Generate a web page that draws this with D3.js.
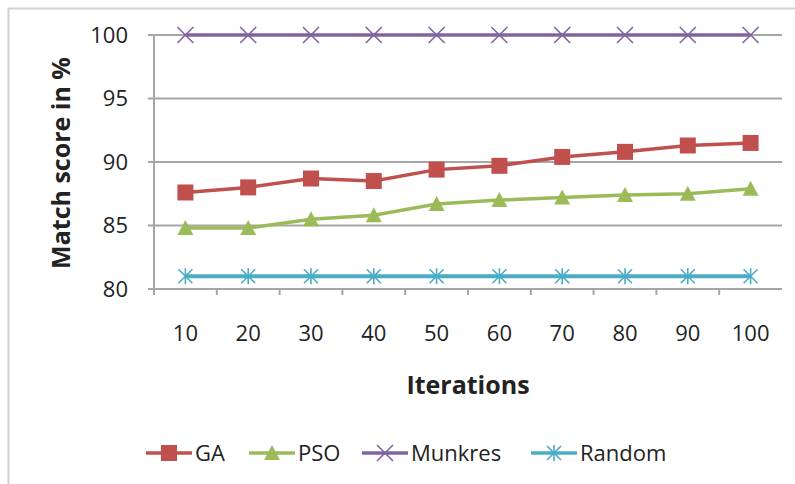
<!DOCTYPE html>
<html><head><meta charset="utf-8">
<script src="https://cdn.jsdelivr.net/npm/d3@7"></script>
<style>body{margin:0;background:#fff}svg{display:block}text{font-family:"Open Sans",sans-serif;fill:#222}</style>
</head><body><svg id="c" width="795" height="484"></svg>
<script>
const iterations = [10,20,30,40,50,60,70,80,90,100];
const gaValues = [87.6,88.0,88.7,88.5,89.4,89.7,90.4,90.8,91.3,91.5];
const psoValues = [84.8,84.8,85.5,85.8,86.7,87.0,87.2,87.4,87.5,87.9];
const munkresValues = [100,100,100,100,100,100,100,100,100,100];
const randomValues = [81,81,81,81,81,81,81,81,81,81];
const yTicks = [80,85,90,95,100];
const seriesNames = ["GA","PSO","Munkres","Random"];
const seriesColors = ["#C0504D","#9BBB59","#8064A2","#4BACC6"];
const seriesMarkers = ["square","triangle","x","star"];
const seriesData = [gaValues,psoValues,munkresValues,randomValues];

(function(){
const svg = d3.select("#c");
svg.append("path").attr("d","M8.5,484 V8.5 H795").attr("fill","none").attr("stroke","#d0d0d0").attr("stroke-width",2);

const pLeft=154, pRight=782, pTop=35, pBottom=289;
const x = d3.scaleBand().domain(iterations).range([pLeft,pRight]);
const y = d3.scaleLinear().domain([80,100]).range([pBottom,pTop]);

svg.append("g").selectAll("line").data(yTicks).join("line")
  .attr("x1",pLeft-6).attr("x2",pRight).attr("y1",d=>y(d)).attr("y2",d=>y(d))
  .attr("stroke","#a6a6a6").attr("stroke-width",2);
svg.append("line").attr("x1",pLeft).attr("x2",pLeft).attr("y1",pTop).attr("y2",pBottom+6).attr("stroke","#a6a6a6").attr("stroke-width",2);
const edges = iterations.map(d=>x(d));
svg.append("g").selectAll("line").data(edges.slice(1)).join("line")
  .attr("x1",d=>d).attr("x2",d=>d).attr("y1",pBottom).attr("y2",pBottom+6)
  .attr("stroke","#a6a6a6").attr("stroke-width",2);

svg.append("g").selectAll("text").data(yTicks).join("text")
  .attr("x",pLeft-26).attr("y",d=>y(d)).attr("dy","0.35em").attr("text-anchor","end")
  .attr("font-size",22).text(d=>d);
svg.append("g").selectAll("text").data(iterations).join("text")
  .attr("x",d=>x(d)+x.bandwidth()/2).attr("y",333).attr("dy","0.35em").attr("text-anchor","middle")
  .attr("font-size",22).text(d=>d);
svg.append("text").attr("x",468).attr("y",385).attr("dy","0.35em").attr("text-anchor","middle")
  .attr("font-size",25).attr("font-weight","bold").text("Iterations");
svg.append("text").attr("transform","translate(61,163) rotate(-90)").attr("dy","0.35em").attr("text-anchor","middle")
  .attr("font-size",25).attr("font-weight","bold").text("Match score in %");

function marker(g, type, color, cx, cy){
  if(type==="square"){
    g.append("rect").attr("x",cx-8).attr("y",cy-8).attr("width",16).attr("height",16).attr("fill",color);
  } else if(type==="triangle"){
    g.append("path").attr("d",`M${cx},${cy-8}L${cx+8},${cy+7}L${cx-8},${cy+7}Z`).attr("fill",color);
  } else if(type==="x"){
    g.append("path").attr("d",`M${cx-8},${cy-8}L${cx+8},${cy+8}M${cx-8},${cy+8}L${cx+8},${cy-8}`).attr("stroke",color).attr("stroke-width",1.6);
  } else {
    g.append("path").attr("d",`M${cx-7},${cy-7}L${cx+7},${cy+7}M${cx-7},${cy+7}L${cx+7},${cy-7}M${cx},${cy-8}L${cx},${cy+8}`).attr("stroke",color).attr("stroke-width",1.6);
  }
}

const line = d3.line().x((d,i)=>x(iterations[i])+x.bandwidth()/2).y(d=>y(d));
seriesData.forEach((vals,k)=>{
  const g = svg.append("g");
  g.append("path").datum(vals).attr("d",line).attr("fill","none").attr("stroke",seriesColors[k]).attr("stroke-width",k===3?4:3.5);
  vals.forEach((v,i)=>marker(g,seriesMarkers[k],seriesColors[k],x(iterations[i])+x.bandwidth()/2,y(v)));
});

const legX = [146,249,362,531];
const legY = 453;
seriesNames.forEach((n,k)=>{
  const g = svg.append("g");
  const w = 46;
  g.append("line").attr("x1",legX[k]).attr("x2",legX[k]+w).attr("y1",legY).attr("y2",legY).attr("stroke",seriesColors[k]).attr("stroke-width",3.5);
  marker(g,seriesMarkers[k],seriesColors[k],legX[k]+w/2,legY);
  g.append("text").attr("x",legX[k]+w+3).attr("y",legY).attr("dy","0.35em").attr("font-size",22).text(n);
});
})();
</script></body></html>
